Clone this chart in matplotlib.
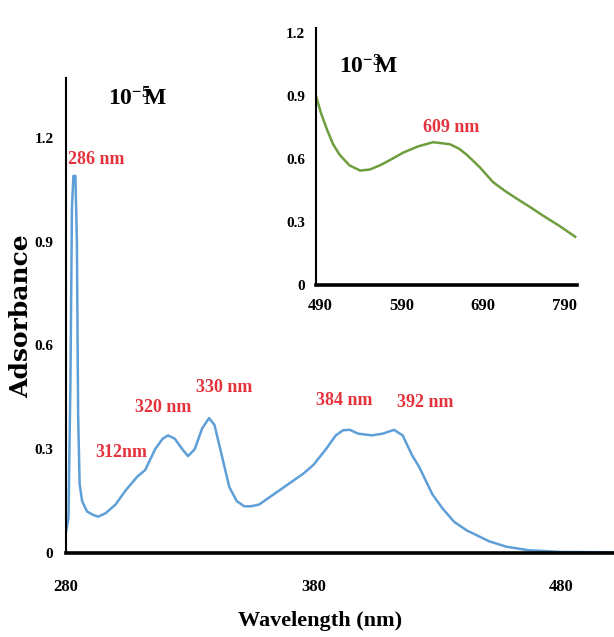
import numpy as np
import matplotlib.pyplot as plt

plt.rcParams['font.family'] = ['Liberation Serif', 'DejaVu Serif']
plt.rcParams['mathtext.fontset'] = 'custom'
plt.rcParams['mathtext.rm'] = 'Liberation Serif:bold'
plt.rcParams['mathtext.it'] = 'Liberation Serif:bold'
plt.rcParams['mathtext.bf'] = 'Liberation Serif:bold'

# main spectrum (10^-5 M), wavelength in axis units, absorbance
wl_main = [280.0, 281.0, 281.8, 282.4, 283.0, 283.8, 284.4, 284.9, 285.5, 286.5,
           288.5, 291, 293, 296, 300, 304, 308.7, 312, 316, 319, 321.2, 324, 327,
           329.3, 332, 335, 337.8, 340, 343, 346, 349, 352, 354.7, 358, 364, 370,
           376, 380, 385, 389, 392, 394.7, 398, 403.6, 408, 412.5, 416, 420, 422.6,
           428, 432, 436.8, 442, 450.9, 458, 467, 480, 501]
abs_main = [0.06, 0.10, 0.5, 1.0, 1.09, 1.09, 0.9, 0.4, 0.2, 0.15,
            0.12, 0.11, 0.105, 0.115, 0.14, 0.18, 0.22, 0.24, 0.30, 0.33, 0.34, 0.33, 0.30,
            0.28, 0.30, 0.36, 0.39, 0.37, 0.28, 0.19, 0.15, 0.135, 0.135, 0.14, 0.17, 0.20,
            0.23, 0.255, 0.30, 0.34, 0.355, 0.356, 0.345, 0.34, 0.345, 0.356, 0.34, 0.28, 0.25,
            0.17, 0.13, 0.09, 0.065, 0.034, 0.018, 0.008, 0.003, 0.002]

# inset spectrum (10^-3 M)
wl_ins = [485, 491, 498.5, 506, 514, 526, 539, 551, 563.5, 578, 591.7, 610, 628.5,
          640, 649.4, 660, 670, 686, 702, 716, 731.6, 748, 763.5, 784, 802.8]
abs_ins = [0.90, 0.82, 0.74, 0.67, 0.62, 0.57, 0.545, 0.55, 0.57, 0.60, 0.63, 0.66, 0.68,
           0.675, 0.67, 0.65, 0.62, 0.56, 0.49, 0.45, 0.41, 0.37, 0.33, 0.28, 0.23]

main_xticks = [280, 380, 480]
main_yticks = [0, 0.3, 0.6, 0.9, 1.2]
main_ylabels = ['0', '0.3', '0.6', '0.9', '1.2']
ins_xticks = [490, 590, 690, 790]
ins_yticks = [0, 0.3, 0.6, 0.9, 1.2]
ins_ylabels = ['0', '0.3', '0.6', '0.9', '1.2']

main_peaks = ['286 nm', '312nm', '320 nm', '330 nm', '384 nm', '392 nm']
main_peak_pos = [(280.8, 1.136), (291.7, 0.29), (307.9, 0.42), (332.5, 0.477),
                 (381.0, 0.442), (413.7, 0.434)]
ins_peak = '609 nm'
ins_peak_pos = (616, 0.752)

red = '#e5333d'
blue = '#5f9fd8'
green = '#6f9e3f'

fig = plt.figure(figsize=(6.14, 6.37), dpi=100)

ax = fig.add_axes([66/614, 84/637, 548/614, 475/637])
ax.plot(wl_main, abs_main, color=blue, lw=1.8)
ax.set_xlim(280, 501.4)
ax.set_ylim(0, 1.373)
ax.set_xticks(main_xticks)
ax.set_yticks(main_yticks)
ax.set_yticklabels(main_ylabels)
for s in ['top', 'right']:
    ax.spines[s].set_visible(False)
ax.spines['bottom'].set_linewidth(2.6)
ax.spines['left'].set_linewidth(1.5)
ax.tick_params(axis='x', length=0, pad=19, labelsize=12)
ax.tick_params(axis='y', length=0, pad=9, labelsize=11)
for lab in ax.get_xticklabels() + ax.get_yticklabels():
    lab.set_fontweight('bold')

for txt, (px, py) in zip(main_peaks, main_peak_pos):
    ax.text(px, py, txt, color=red, fontsize=13, fontweight='bold',
            ha='left', va='center')
ax.text(0.077, 0.955, r'$\mathrm{10^{-5}}\!\!\mathrm{M}$', transform=ax.transAxes,
        fontsize=17, ha='left', va='center')

fig.text(320/614, 1 - 621/637, 'Wavelength (nm)', fontsize=16, fontweight='bold',
         ha='center', va='center')
fig.text(21/614, 1 - 316/637, 'Adsorbance', fontsize=18, fontweight='bold',
         family='DejaVu Serif', rotation=90, ha='center', va='center')

# inset
axi = fig.add_axes([316/614, (637-285)/637, 261/614, 257/637])
axi.plot(wl_ins, abs_ins, color=green, lw=1.8)
axi.set_xlim(485, 805)
axi.set_ylim(0, 1.224)
axi.set_xticks(ins_xticks)
axi.set_yticks(ins_yticks)
axi.set_yticklabels(ins_ylabels)
for s in ['top', 'right']:
    axi.spines[s].set_visible(False)
axi.spines['bottom'].set_linewidth(2.6)
axi.spines['left'].set_linewidth(1.5)
axi.tick_params(axis='x', length=0, pad=9, labelsize=12)
axi.tick_params(axis='y', length=0, pad=8, labelsize=11)
for lab in axi.get_xticklabels() + axi.get_yticklabels():
    lab.set_fontweight('bold')
axi.text(ins_peak_pos[0], ins_peak_pos[1], ins_peak, color=red, fontsize=13,
         fontweight='bold', ha='left', va='center')
axi.text(0.09, 0.85, r'$\mathrm{10^{-3}}\!\!\mathrm{M}$', transform=axi.transAxes,
         fontsize=17, ha='left', va='center')

fig.savefig('out.png', dpi=100)
